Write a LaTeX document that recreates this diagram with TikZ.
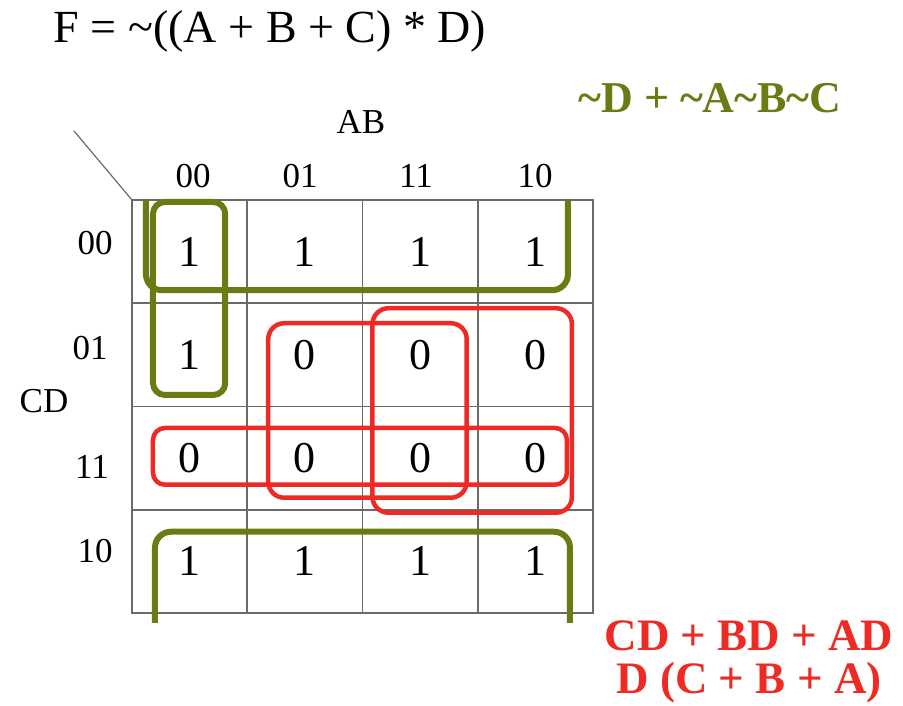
\documentclass[tikz,border=0pt]{standalone}
\usepackage{fontspec}
\setmainfont{Liberation Serif}
\usepackage{tikz}
\usetikzlibrary{calc,positioning}
\definecolor{km-green}{HTML}{6B7A12}
\definecolor{km-red}{HTML}{EE2A24}
\definecolor{km-grid}{HTML}{6A6A6A}

\begin{document}
\begin{tikzpicture}[x=1pt, y=-1pt, node distance=0pt,
  cell/.style={draw=km-grid, line width=1.6pt, minimum width=115.25pt, minimum height=103.25pt, inner sep=0pt, outer sep=0pt, font=\fontsize{44}{50}\selectfont},
  lbl/.style={inner sep=0pt, font=\fontsize{35}{40}\selectfont},
  grpgreen/.style={draw=km-green, line width=6pt, rounded corners=16pt},
  grpred/.style={draw=km-red, line width=4.5pt, rounded corners=16pt}]
\useasboundingbox (0,0) rectangle (903,706);
\node[cell] (r00c00) at (189.6,251.6) {1};
\node[cell, right=of r00c00] (r00c01) {1};
\node[cell, right=of r00c01] (r00c11) {1};
\node[cell, right=of r00c11] (r00c10) {1};
\node[cell, below=of r00c00] (r01c00) {1};
\node[cell, right=of r01c00] (r01c01) {0};
\node[cell, right=of r01c01] (r01c11) {0};
\node[cell, right=of r01c11] (r01c10) {0};
\node[cell, below=of r01c00] (r11c00) {0};
\node[cell, right=of r11c00] (r11c01) {0};
\node[cell, right=of r11c01] (r11c11) {0};
\node[cell, right=of r11c11] (r11c10) {0};
\node[cell, below=of r11c00] (r10c00) {1};
\node[cell, right=of r10c00] (r10c01) {1};
\node[cell, right=of r10c01] (r10c11) {1};
\node[cell, right=of r10c11] (r10c10) {1};
\node[lbl, anchor=base, font=\fontsize{46}{52}\selectfont] (func) at (270,43) {F = \textasciitilde((A + B + C) * D)};
\node[lbl, anchor=base] (ab) at (361,134) {AB};
\node[lbl, anchor=base] (ab00) at (193,188) {00};
\node[lbl, anchor=base] (ab01) at (300,188) {01};
\node[lbl, anchor=base] (ab11) at (416,188) {11};
\node[lbl, anchor=base] (ab10) at (535,188) {10};
\node[lbl] (cd) at (44,401) {CD};
\node[lbl] (cd00) at (95,243) {00};
\node[lbl] (cd01) at (90,348) {01};
\node[lbl] (cd11) at (92,467) {11};
\node[lbl] (cd10) at (95,551) {10};
\coordinate (slash) at (74,131);
\draw[km-grid, line width=1.2pt] (slash) -- (r00c00.north west);
\draw[grpgreen] ($(r00c00.north west)+(14,0)$) |- ($(r00c10.south east)+(-25,-13)$) -- ($(r00c10.north east)+(-25,0)$);
\draw[grpgreen, rounded corners=12pt] ($(r00c00.north west)+(21,2)$) rectangle ($(r01c00.south east)+(-22,-11.5)$);
\draw[grpgreen] ($(r10c00.south west)+(23,10)$) |- ($(r10c10.north east)+(-23,22)$) -- ($(r10c10.south east)+(-23,10)$);
\draw[grpred, rounded corners=12pt] ($(r11c00.north west)+(21,21.5)$) rectangle ($(r11c10.south east)+(-26,-25)$);
\draw[grpred] ($(r01c01.north west)+(21,20)$) rectangle ($(r11c11.south east)+(-11,-12)$);
\draw[grpred] ($(r01c11.north west)+(10,5)$) rectangle ($(r11c10.south east)+(-21,3)$);
\node[lbl, anchor=base, text=km-green, font=\bfseries\fontsize{44}{50}\selectfont] (sop) at (710,113) {\textasciitilde D + \textasciitilde A\textasciitilde B\textasciitilde C};
\node[lbl, anchor=base, text=km-red, font=\bfseries\fontsize{45}{50}\selectfont] (pos) at (749,650) {CD + BD + AD};
\node[lbl, anchor=base, text=km-red, font=\bfseries\fontsize{45}{50}\selectfont] (posf) at (749,693) {D (C + B + A)};
\end{tikzpicture}
\end{document}
